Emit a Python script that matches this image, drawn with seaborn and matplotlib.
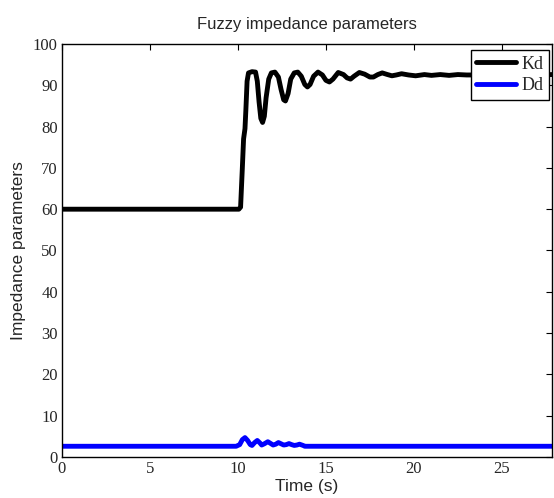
import matplotlib
matplotlib.use("Agg")
import matplotlib.pyplot as plt
import seaborn as sns
import pandas as pd

# --- data ---
kd_time = [0, 10.05, 10.15, 10.25, 10.32, 10.4, 10.45, 10.52, 10.6, 10.8, 11.0,
           11.1, 11.2, 11.3, 11.4, 11.5, 11.6, 11.75, 11.9, 12.1, 12.3, 12.45,
           12.6, 12.7, 12.85, 13.0, 13.2, 13.4, 13.6, 13.8, 13.95, 14.1, 14.3,
           14.55, 14.8, 15.0, 15.2, 15.4, 15.7, 16.0, 16.2, 16.4, 16.6, 16.9,
           17.2, 17.5, 17.7, 17.95, 18.2, 18.5, 18.75, 19.0, 19.3, 19.7, 20.1,
           20.6, 21.0, 21.5, 22.0, 22.5, 23.0, 24.0, 25.0, 26.0, 27.9]
kd_value = [60, 60, 60.5, 70, 77, 79.5, 84, 91, 93, 93.3, 93.2,
            91, 86, 82, 81, 82.5, 87, 91.5, 93, 93.2, 92, 89,
            86.5, 86.2, 88, 91.5, 93, 93.2, 92.2, 90.2, 89.6, 90.2, 92.2,
            93.2, 92.5, 91.2, 90.8, 91.5, 93.1, 92.6, 91.8, 91.5, 92.2, 93.1,
            92.7, 92.0, 92.0, 92.6, 93.0, 92.6, 92.3, 92.5, 92.8, 92.5, 92.3,
            92.6, 92.4, 92.6, 92.4, 92.6, 92.5, 92.5, 92.6, 92.5, 92.6]

dd_time = [0, 9.9, 10.1, 10.25, 10.4, 10.55, 10.7, 10.8, 10.95, 11.1, 11.25,
           11.35, 11.5, 11.7, 11.85, 12.0, 12.15, 12.3, 12.45, 12.6, 12.75,
           12.9, 13.05, 13.2, 13.35, 13.5, 13.7, 13.8, 27.9]
dd_value = [2.6, 2.6, 3.0, 4.2, 4.7, 4.0, 3.0, 2.8, 3.5, 4.0, 3.4,
            2.9, 3.2, 3.7, 3.3, 2.9, 3.1, 3.5, 3.2, 2.9, 3.0,
            3.25, 3.0, 2.8, 2.9, 3.1, 2.8, 2.6, 2.6]

x_ticks = [0, 5, 10, 15, 20, 25]
y_ticks = [0, 10, 20, 30, 40, 50, 60, 70, 80, 90, 100]

df = pd.concat([
    pd.DataFrame({"t": kd_time, "v": kd_value, "series": "Kd"}),
    pd.DataFrame({"t": dd_time, "v": dd_value, "series": "Dd"}),
], ignore_index=True)

sns.set_style("white")
plt.rcParams["font.family"] = ["Liberation Sans", "DejaVu Sans"]

fig = plt.figure(figsize=(5.54, 4.98), dpi=100)
ax = fig.add_axes([62 / 554, 1 - 457 / 498, (552 - 62) / 554, (457 - 44) / 498])

sns.lineplot(data=df, x="t", y="v", hue="series", palette={"Kd": "black", "Dd": "#0000ff"},
             linewidth=3.5, ax=ax, sort=False, estimator=None)

ax.set_xlim(0, 27.85)
ax.set_ylim(0, 100)
ax.set_xticks(x_ticks)
ax.set_yticks(y_ticks)
ax.tick_params(direction="in", top=True, right=True, length=4, width=0.8,
               labelsize=12, pad=3, color="black")
for lab in ax.get_xticklabels() + ax.get_yticklabels():
    lab.set_fontfamily(["Liberation Serif", "DejaVu Serif"])
for s in ax.spines.values():
    s.set_color("black")
    s.set_linewidth(1.0)

ax.set_title("Fuzzy impedance parameters", fontsize=12, pad=11)
ax.set_xlabel("Time (s)", fontsize=12.5, labelpad=1)
ax.set_ylabel("Impedance parameters", fontsize=12.5, labelpad=5)

leg = ax.legend(loc="upper right", bbox_to_anchor=(0.993, 0.985), frameon=True,
                fancybox=False, framealpha=1, edgecolor="black",
                prop={"family": "Liberation Serif", "size": 13},
                handlelength=2.2, handletextpad=0.3, borderpad=0.3,
                labelspacing=0.25, borderaxespad=0)
leg.get_frame().set_linewidth(1.0)
for line in leg.get_lines():
    line.set_linewidth(3.5)

fig.savefig("out.png", dpi=100)
